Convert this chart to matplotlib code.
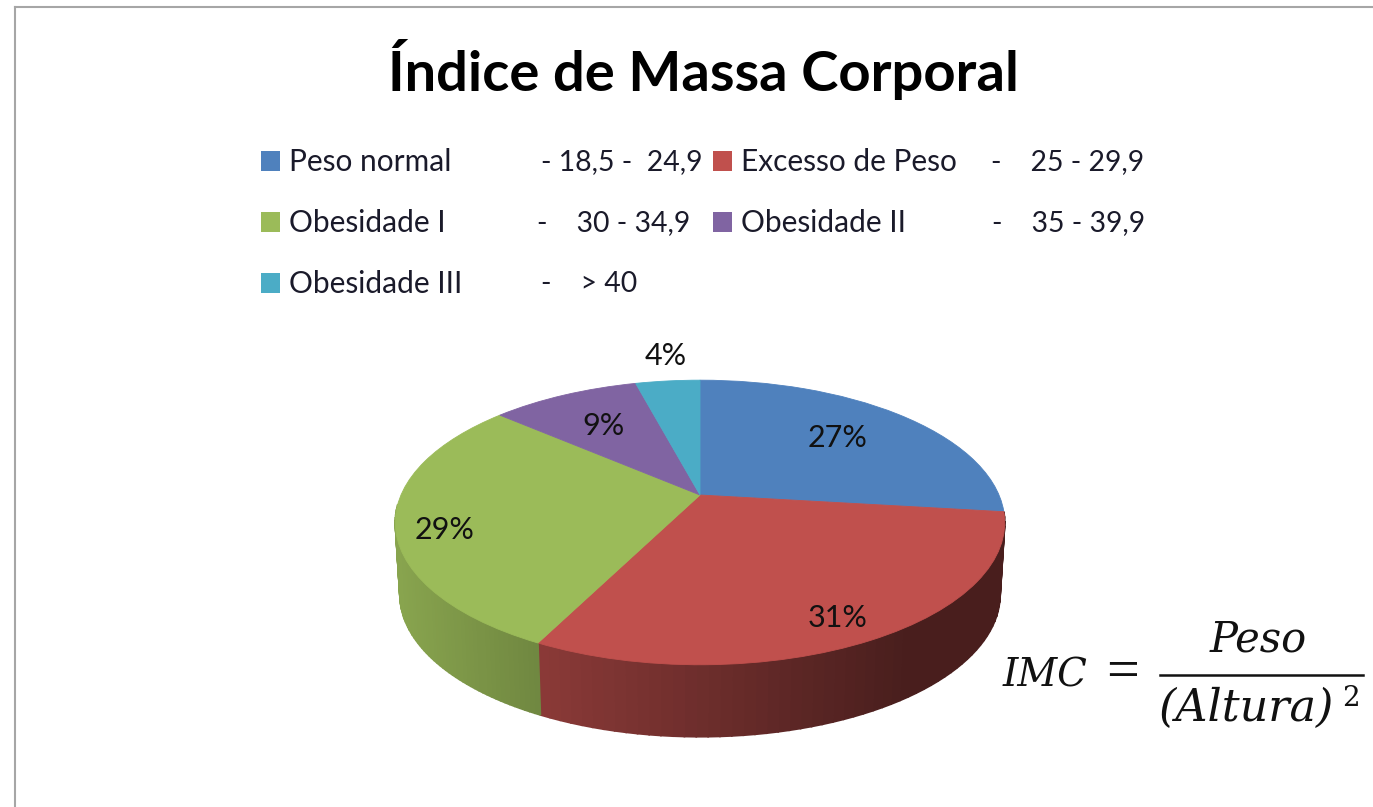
import numpy as np
import matplotlib
matplotlib.use('Agg')
import matplotlib.pyplot as plt
from matplotlib.patches import Rectangle
from matplotlib.transforms import Transform

W, H = 1373, 807

# %% data
categories = ['Peso normal', 'Excesso de Peso', 'Obesidade I', 'Obesidade II', 'Obesidade III']
ranges = ['- 18,5 -  24,9', '-    25 - 29,9', '-    30 - 34,9', '-    35 - 39,9', '-    > 40']
values = [26.9, 30.5, 29.0, 9.49, 4.11]
pct_labels = ['27%', '31%', '29%', '9%', '4%']
colors = ['#4f81bd', '#c0504d', '#9bbb59', '#8064a2', '#4bacc6']
title = 'Índice de Massa Corporal'

# layout, in pixels of the reference
legend_rows = [(261, 161, 541), (713, 161, 991), (261, 222, 537), (713, 222, 992), (261, 283, 541)]
label_pos = [(838, 438), (838, 618), (445, 530), (603, 426), (666, 356)]

CX, CY = 700, 495
KX, KY, P = 299, 137, 0.193
DEPTH = 72


class Perspective(Transform):
    # tilted disc seen in perspective: unit pie coordinates to pixels
    input_dims = output_dims = 2

    def transform_non_affine(self, xy):
        xy = np.asarray(xy, dtype=float)
        d = 1 + P * xy[:, 1]
        return np.column_stack([CX + KX * xy[:, 0] / d, CY - KY * xy[:, 1] / d])


persp = Perspective()

fig = plt.figure(figsize=(W / 100, H / 100), dpi=100, facecolor='white')
ax = fig.add_axes([0, 0, 1, 1])

wedges, _ = ax.pie(values, colors=colors, startangle=90, counterclock=False, radius=1)
for w, c in zip(wedges, colors):
    w.set_transform(persp + ax.transData)
    w.set_edgecolor(c)
    w.set_linewidth(0.6)
    w.set_zorder(3)

ax.set_aspect('auto')
ax.set_xlim(0, W)
ax.set_ylim(H, 0)
ax.set_axis_on()
ax.set_xticks([])
ax.set_yticks([])
for s in ax.spines.values():
    s.set_visible(False)


def rim(a0, a1, base, left_shade, right_shade):
    # side of one slice, cut in narrow strips so the shade runs across it
    angles = np.linspace(a0, a1, 60)
    top = persp.transform_non_affine(np.column_stack([np.sin(angles), np.cos(angles)]))
    bottom = np.column_stack([CX + (top[:, 0] - CX) * 0.985, top[:, 1] + DEPTH])
    rgb = np.array(matplotlib.colors.to_rgb(base))
    for i in range(len(angles) - 1):
        f = (top[i, 0] + top[i + 1, 0]) / 2
        t = np.clip((f - left_shade[0]) / (right_shade[0] - left_shade[0]), 0, 1)
        shade = left_shade[1] + t * (right_shade[1] - left_shade[1])
        quad_x = [top[i, 0], top[i + 1, 0], bottom[i + 1, 0], bottom[i, 0]]
        quad_y = [top[i, 1], top[i + 1, 1], bottom[i + 1, 1], bottom[i, 1]]
        ax.fill(quad_x, quad_y, color=rgb * shade, lw=1.2, zorder=2)


bounds = np.radians(np.cumsum([0] + values) * 3.6)
# the red slice and the green slice hold the visible side
rim(bounds[1], bounds[2], colors[1], (540, 0.72), (905, 0.38))
rim(bounds[2], bounds[3] - np.radians(45), colors[2], (395, 0.88), (540, 0.72))

for txt, (x, y) in zip(pct_labels, label_pos):
    ax.text(x, y, txt, fontsize=22, family='Lato', color='#111111', ha='center', va='center', zorder=5)

ax.text(703, 70, title, fontsize=40.4, family='Lato', weight='bold', color='black', ha='center', va='center')

for cat, rng, c, (x, y, rx) in zip(categories, ranges, colors, legend_rows):
    ax.add_patch(Rectangle((x, y - 10), 19, 20, color=c, lw=0))
    ax.text(x + 28, y + 1, cat, fontsize=21.5, family='Lato', color='#1a1a2a', ha='left', va='center')
    ax.text(rx, y + 1, rng, fontsize=20.4, family='Lato', color='#1a1a2a', ha='left', va='center')

# formula
fkw = dict(family='DejaVu Serif', style='italic', color='#111111', va='center')
ax.text(1003, 676, 'IMC', ha='left', fontsize=28, **fkw)
ax.text(1123, 674, '=', ha='center', fontsize=42, family='Liberation Serif', color='#111111', va='center')
ax.text(1258, 640, 'Peso', ha='center', fontsize=30, **fkw)
ax.text(1247, 708, '(Altura)', ha='center', fontsize=32, **fkw)
ax.text(1351, 698, '2', ha='center', fontsize=20, family='DejaVu Serif', color='#111111', va='center')
ax.plot([1160, 1363], [675, 675], color='#111111', lw=1.8)

# frame of the pasted picture, top and left only
ax.plot([15, W], [7, 7], color='#a6a6a6', lw=1.5)
ax.plot([15, 15], [7, H], color='#a6a6a6', lw=1.5)

fig.savefig('out.png', dpi=100)
